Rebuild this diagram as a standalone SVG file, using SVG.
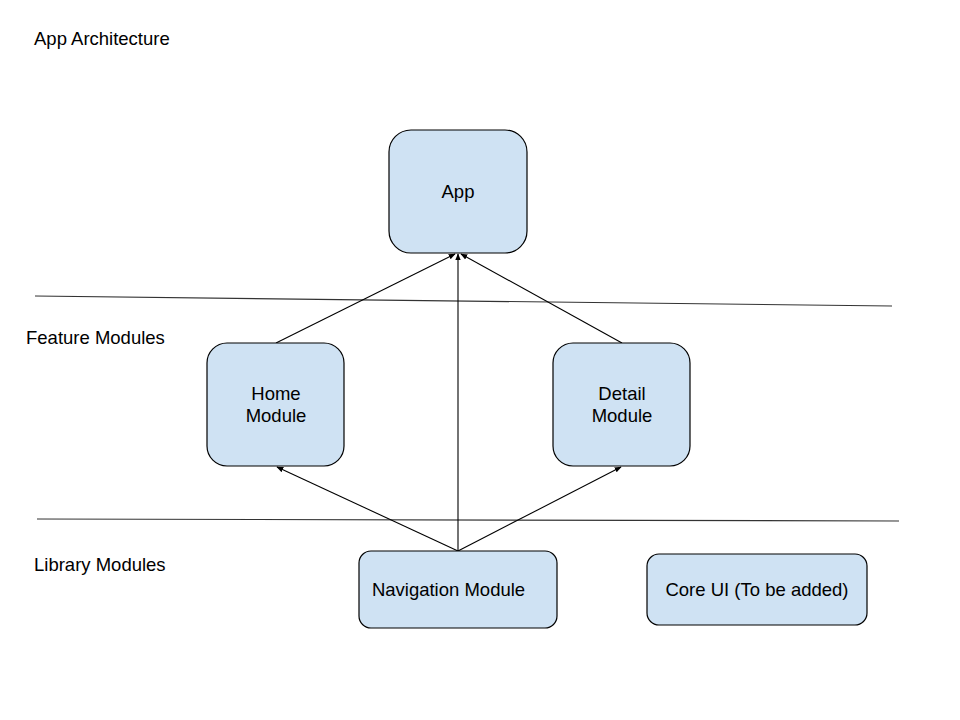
<svg xmlns="http://www.w3.org/2000/svg" width="960" height="720" viewBox="0 0 960 720">
<style>
text{font-family:"Liberation Sans",Arial,sans-serif;font-size:18.5px;fill:#000}
.node rect{fill:#cfe2f3;stroke:#000;stroke-width:1.2}
.node text{text-anchor:middle}
.conn line{stroke:#000;stroke-width:1.1;marker-end:url(#ah)}
.div{stroke:#333;stroke-width:1.2}
</style>
<defs>
<marker id="ah" viewBox="0 0 10 10" refX="9" refY="5" markerWidth="7" markerHeight="7" markerUnits="userSpaceOnUse" orient="auto">
<path d="M0,1 L10,5 L0,9 Z" fill="#000"/>
</marker>
</defs>
<rect width="960" height="720" fill="#fff"/>
<text x="34" y="44.5">App Architecture</text>
<text x="26" y="343.5">Feature Modules</text>
<text x="34" y="570.5">Library Modules</text>
<line class="div" x1="35" y1="296" x2="892" y2="306"/>
<line class="div" x1="37" y1="519" x2="899" y2="521"/>
<g class="conn">
<line x1="276" y1="343" x2="455" y2="254"/>
<line x1="622" y1="343" x2="461" y2="254"/>
<line x1="458" y1="551" x2="458" y2="254"/>
<line x1="458" y1="551" x2="277" y2="467"/>
<line x1="458" y1="551" x2="621" y2="467"/>
</g>
<g id="app" class="node"><rect x="389" y="130" width="138" height="123" rx="22"/><text x="458" y="197.5">App</text></g>
<g id="home" class="node"><rect x="207" y="343" width="137" height="123" rx="20"/><text x="276" y="399.5">Home</text><text x="276" y="421.5">Module</text></g>
<g id="detail" class="node"><rect x="553" y="343" width="137" height="123" rx="20"/><text x="622" y="399.5">Detail</text><text x="622" y="421.5">Module</text></g>
<g id="nav" class="node"><rect x="359" y="551" width="198" height="77" rx="12"/><text x="448.5" y="595.5">Navigation Module</text></g>
<g id="coreui" class="node"><rect x="647" y="554" width="220" height="71" rx="12"/><text x="757" y="595.5">Core UI (To be added)</text></g>
</svg>
